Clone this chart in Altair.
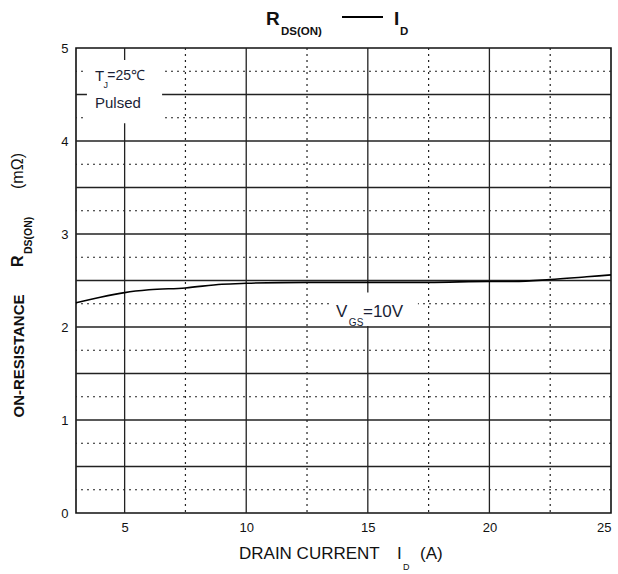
import altair as alt
import pandas as pd

# ---- data ----
id_a = [3, 4, 5, 6, 7.5, 9, 10, 12.5, 15, 17.5, 20, 21, 22.5, 24, 25]
rds_mohm = [2.26, 2.32, 2.37, 2.40, 2.42, 2.46, 2.47, 2.48, 2.48, 2.48, 2.49, 2.49, 2.51, 2.54, 2.56]

x_ticks = [5, 10, 15, 20, 25]
y_ticks = [0, 1, 2, 3, 4, 5]
x_major_grid = [5, 10, 15, 20]
x_minor_grid = [7.5, 12.5, 17.5, 22.5]
y_major_grid = [0.5, 1, 1.5, 2, 2.5, 3, 3.5, 4, 4.5]
y_minor_grid = [0.25, 0.75, 1.25, 1.75, 2.25, 2.75, 3.25, 3.75, 4.25, 4.75]

FONT = "Liberation Sans"
W, H = 535, 465

xs = alt.Scale(domain=[3, 25], nice=False, zero=False)
ys = alt.Scale(domain=[0, 5], nice=False)

curve_df = pd.DataFrame({"id": id_a, "r": rds_mohm})

base_axes = alt.Chart(curve_df).mark_line(color="black", strokeWidth=1.6, interpolate="monotone").encode(
    x=alt.X("id:Q", scale=xs,
            axis=alt.Axis(values=x_ticks, title=None, grid=False, ticks=False, domain=False, format="d",
                          labelFont=FONT, labelFontSize=13, labelColor="#111", labelPadding=8)),
    y=alt.Y("r:Q", scale=ys,
            axis=alt.Axis(values=y_ticks, title=None, grid=False, ticks=False, domain=False, format="d",
                          labelFont=FONT, labelFontSize=13, labelColor="#111", labelPadding=8)),
)

def vrules(vals, dash=None, width=1.3):
    kw = dict(color="#222", strokeWidth=width)
    if dash:
        kw["strokeDash"] = dash
    return alt.Chart(pd.DataFrame({"v": vals})).mark_rule(**kw).encode(
        x=alt.X("v:Q", scale=xs))

def hrules(vals, dash=None, width=1.3):
    kw = dict(color="#222", strokeWidth=width)
    if dash:
        kw["strokeDash"] = dash
    return alt.Chart(pd.DataFrame({"v": vals})).mark_rule(**kw).encode(
        y=alt.Y("v:Q", scale=ys))

grid = (vrules(x_major_grid) + vrules(x_minor_grid, dash=[2, 4], width=1.2)
        + hrules(y_major_grid) + hrules(y_minor_grid, dash=[2, 4], width=1.2))

# annotation boxes (white, covering grid)
box_df = pd.DataFrame({"x0": [3.45, 13.57], "x1": [6.54, 17.06], "y0": [4.19, 2.01], "y1": [4.87, 2.37]})
boxes = alt.Chart(box_df).mark_rect(color="white").encode(
    x=alt.X("x0:Q", scale=xs), x2="x1:Q", y=alt.Y("y0:Q", scale=ys), y2="y1:Q")

def dtext(t, x, y, size, color="#1a1f36", weight="normal"):
    return alt.Chart(pd.DataFrame({"x": [x], "y": [y]})).mark_text(
        text=t, font=FONT, fontSize=size, align="left", baseline="middle",
        color=color, fontWeight=weight).encode(
        x=alt.X("x:Q", scale=xs), y=alt.Y("y:Q", scale=ys))

annots = (dtext("T", 3.78, 4.70, 15) + dtext("J", 4.13, 4.60, 9)
          + dtext("=25℃", 4.29, 4.70, 14) + dtext("Pulsed", 3.78, 4.41, 15)
          + dtext("V", 13.69, 2.16, 17) + dtext("GS", 14.22, 2.04, 10)
          + dtext("=10V", 14.80, 2.16, 17))

one = pd.DataFrame({"k": [0]})

def ptext(t, x, y, size, angle=0, weight="normal", align="left", color="#111"):
    return alt.Chart(one).mark_text(
        text=t, font=FONT, fontSize=size, align=align, baseline="middle",
        angle=angle, fontWeight=weight, color=color).encode(
        x=alt.value(x), y=alt.value(y))

# title  (pixel positions relative to plot origin at 76,48)
title = (ptext("R", 266 - 76, 19 - 48, 19, weight="bold")
         + ptext("DS(ON)", 281 - 76, 32 - 48, 11.5, weight="bold")
         + alt.Chart(one).mark_rule(color="black", strokeWidth=2).encode(
             x=alt.value(342 - 76), x2=alt.value(383 - 76), y=alt.value(17 - 48))
         + ptext("I", 394 - 76, 19 - 48, 19, weight="bold")
         + ptext("D", 400 - 76, 32 - 48, 11.5, weight="bold"))

xtitle = (ptext("DRAIN CURRENT", 239 - 76, 554 - 48, 17)
          + ptext("I", 397 - 76, 554 - 48, 17)
          + ptext("D", 403 - 76, 567 - 48, 9)
          + ptext("(A)", 420 - 76, 554 - 48, 17))

ytitle = (ptext("ON-RESISTANCE", 19 - 76, 356 - 48, 15, angle=270, align="center", weight="bold")
          + ptext("R", 18 - 76, 267 - 48, 16, angle=270, align="left", weight="bold")
          + ptext("DS(ON)", 29 - 76, 254 - 48, 10.5, angle=270, align="left", weight="bold")
          + ptext("(mΩ)", 18 - 76, 171 - 48, 16, angle=270, align="center"))

chart = alt.layer(grid, boxes, base_axes, annots, title, xtitle, ytitle).properties(
    width=W, height=H,
    autosize=alt.AutoSizeParams(type="none"),
    padding={"left": 76, "top": 48, "right": 7, "bottom": 61},
    background="white",
).configure_view(stroke="#111", strokeWidth=1.6)

chart.save("out.html", embed_options={"renderer": "svg", "actions": False})
